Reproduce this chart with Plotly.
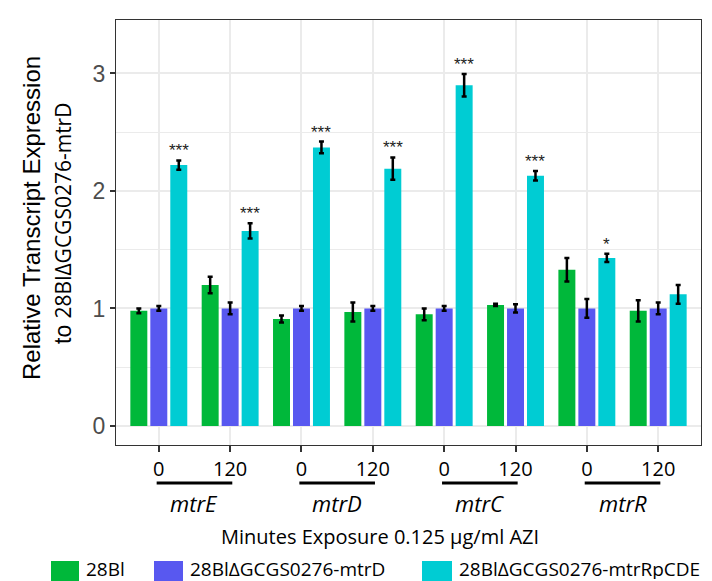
import plotly.graph_objects as go

# ---------------- data ----------------
categories = [1, 2, 3, 4, 5, 6, 7, 8]
tick_labels = ["0", "120", "0", "120", "0", "120", "0", "120"]
genes = ["mtrE", "mtrD", "mtrC", "mtrR"]
series_names = ["28Bl", "28Bl\u0394GCGS0276-mtrD", "28Bl\u0394GCGS0276-mtrRpCDE"]
colors = ["#00B83A", "#5858F0", "#00CCD3"]

wt_mean = [0.98, 1.20, 0.91, 0.97, 0.95, 1.03, 1.33, 0.98]
wt_se = [0.02, 0.07, 0.03, 0.08, 0.05, 0.01, 0.10, 0.09]
ko_mean = [1.00, 1.00, 1.00, 1.00, 1.00, 1.00, 1.00, 1.00]
ko_se = [0.02, 0.05, 0.02, 0.02, 0.02, 0.035, 0.08, 0.05]
comp_mean = [2.22, 1.66, 2.37, 2.19, 2.90, 2.13, 1.43, 1.12]
comp_se = [0.04, 0.065, 0.05, 0.095, 0.095, 0.04, 0.035, 0.08]
significance = ["***", "***", "***", "***", "***", "***", "*", ""]

means = [wt_mean, ko_mean, comp_mean]
ses = [wt_se, ko_se, comp_se]

# ---------------- layout geometry (pixels) ----------------
W, H = 712, 581
L, R, T, B = 108, 693, 12, 437


def px_x(p):
    return (p - L) / (R - L)


def px_y(p):
    return (B - p) / (B - T)


fig = go.Figure()
for name, col, m, s in zip(series_names, colors, means, ses):
    fig.add_trace(go.Bar(
        x=categories, y=m, name=name, marker=dict(color=col, line=dict(width=0)),
        error_y=dict(type="data", array=s, visible=True, color="black",
                     thickness=2.5, width=2.5),
        showlegend=False,
    ))

annotations = []
# significance marks above the complemented-strain bars
for c, m, s, sig in zip(categories, comp_mean, comp_se, significance):
    if sig:
        annotations.append(dict(x=c + 0.28, y=m + s, xref="x", yref="y", text=sig,
                                showarrow=False, yanchor="bottom", yshift=-2,
                                font=dict(family="Liberation Sans", size=17, color="#222222")))

shapes = []
# gene brackets and labels
for i, g in enumerate(genes):
    c0, c1 = categories[2 * i], categories[2 * i + 1]
    shapes.append(dict(type="line", xref="x", yref="paper", x0=c0 - 0.03, x1=c1 + 0.03,
                       y0=px_y(475), y1=px_y(475), line=dict(color="black", width=3)))
    annotations.append(dict(x=(c0 + c1) / 2, y=px_y(495), xref="x", yref="paper", text=g,
                            showarrow=False, yanchor="middle",
                            font=dict(family="Open Sans", size=22, color="black", style="italic")))

# x axis title
annotations.append(dict(x=px_x(372), y=px_y(528), xref="paper", yref="paper",
                        text="Minutes Exposure 0.125 \u03bcg/ml AZI", showarrow=False,
                        xanchor="center", yanchor="middle",
                        font=dict(family="Open Sans", size=20, color="black")))

# y axis title (two lines)
annotations.append(dict(x=px_x(23), y=px_y(210), xref="paper", yref="paper",
                        text="Relative Transcript Expression", showarrow=False, textangle=-90,
                        xanchor="center", yanchor="middle",
                        font=dict(family="Liberation Sans", size=24, color="black")))
annotations.append(dict(x=px_x(55), y=px_y(216), xref="paper", yref="paper",
                        text="to <span style='font-size:21px;font-family:Open Sans'>28Bl\u0394GCGS0276-mtrD</span>",
                        showarrow=False, textangle=-90, xanchor="center", yanchor="middle",
                        font=dict(family="Liberation Sans", size=23, color="black")))

# legend (drawn manually to match the large keys)
legend_keys = [(43, 71), (146, 175), (414, 444)]
for (k0, k1), name, col in zip(legend_keys, series_names, colors):
    shapes.append(dict(type="rect", xref="paper", yref="paper",
                       x0=px_x(k0), x1=px_x(k1), y0=px_y(553), y1=px_y(584),
                       fillcolor=col, line=dict(width=0), layer="above"))
    annotations.append(dict(x=px_x(k1 + 6), y=px_y(561), xref="paper", yref="paper",
                            text=name, showarrow=False, xanchor="left", yanchor="middle",
                            height=20, valign="middle", borderpad=0,
                            font=dict(family="Open Sans", size=19, color="black")))

fig.update_layout(
    width=W, height=H, autosize=False,
    margin=dict(l=L, r=W - R, t=T, b=H - B),
    plot_bgcolor="white", paper_bgcolor="white",
    barmode="group", bargap=0.16, bargroupgap=0.15,
    annotations=annotations, shapes=shapes,
    showlegend=False,
)
fig.update_xaxes(
    range=[0.4, 8.6], tickmode="array", tickvals=categories, ticktext=tick_labels,
    showgrid=True, gridcolor="#EBEBEB", gridwidth=1.5,
    showline=True, mirror=True, linecolor="#333333", linewidth=1.2,
    ticks="outside", ticklen=6, tickwidth=2, tickcolor="#333333",
    ticklabelstandoff=0,
    tickfont=dict(family="Open Sans", size=20, color="black"), zeroline=False,
)
fig.update_yaxes(
    range=[-0.162, 3.455], tickmode="array", tickvals=[0, 1, 2, 3],
    showgrid=True, gridcolor="#EBEBEB", gridwidth=1.5,
    minor=dict(tickmode="array", tickvals=[0.5, 1.5, 2.5, 3.5], showgrid=True,
               gridcolor="#EBEBEB", gridwidth=1.2, ticks=""),
    showline=True, mirror=True, linecolor="#333333", linewidth=1.2,
    ticks="outside", ticklen=5, tickwidth=1.5, tickcolor="#333333",
    tickfont=dict(family="Liberation Sans", size=23, color="#4D4D4D"), zeroline=False,
)

fig.write_html("out.html")
